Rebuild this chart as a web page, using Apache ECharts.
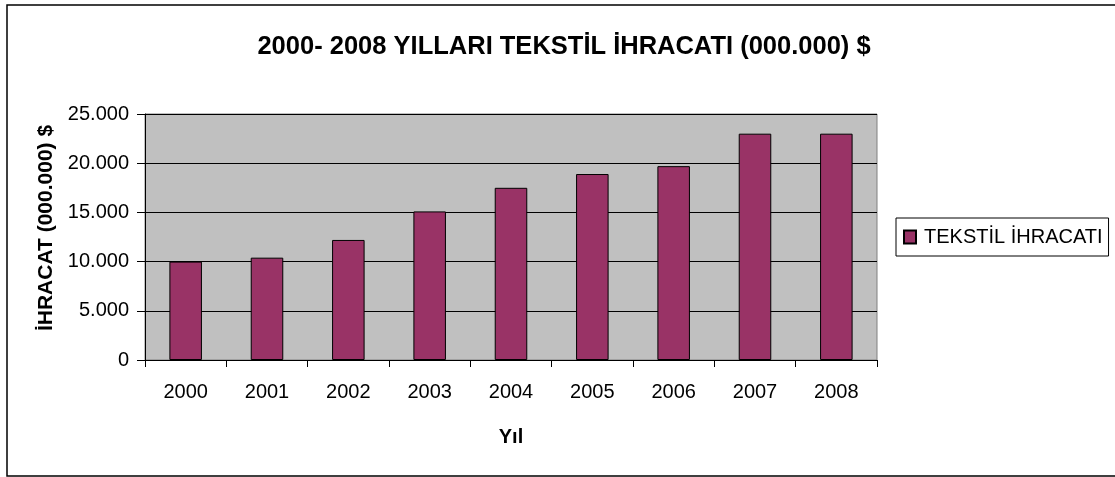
<!DOCTYPE html>
<html>
<head>
<meta charset="utf-8">
<script src="https://cdn.jsdelivr.net/npm/echarts@6/dist/echarts.min.js"></script>
<style>
  html, body { margin: 0; padding: 0; background: #fff; }
  #chart { width: 1115px; height: 477px; }
</style>
</head>
<body>
<div id="chart"></div>
<script>
// ihracat verisi (000.000 $)
var years = ['2000', '2001', '2002', '2003', '2004', '2005', '2006', '2007', '2008'];
var exports = [10000, 10400, 12200, 15100, 17500, 18900, 19700, 23000, 23000];
var seriesName = 'TEKSTİL İHRACATI';

var font = 'Liberation Sans, Arial, sans-serif';

var chart = echarts.init(document.getElementById('chart'));

var option = {
    backgroundColor: '#fff',
    animation: false,
    title: {
        text: '2000- 2008 YILLARI TEKSTİL İHRACATI (000.000) $',
        left: 559,
        textAlign: 'center',
        top: 29,
        textStyle: {
            fontFamily: font,
            fontSize: 25.5,
            fontWeight: 'bold',
            color: '#000'
        }
    },
    legend: {
        left: 896,
        top: 218,
        padding: [9, 6, 9, 7],
        borderColor: '#000',
        borderWidth: 1,
        borderRadius: 0,
        itemWidth: 12,
        itemHeight: 13,
        icon: 'rect',
        data: [seriesName],
        textStyle: {
            fontFamily: font,
            fontSize: 20,
            color: '#000',
            padding: [0, 0, 0, 3]
        }
    },
    grid: {
        left: 145,
        top: 114,
        right: 238,
        bottom: 117,
        show: true,
        backgroundColor: '#c0c0c0',
        borderColor: '#808080',
        borderWidth: 1
    },
    xAxis: {
        type: 'category',
        data: years,
        name: 'Yıl',
        nameLocation: 'middle',
        nameGap: 67,
        nameTextStyle: {
            fontFamily: font,
            fontSize: 20,
            fontWeight: 'bold',
            color: '#000'
        },
        axisLine: { lineStyle: { color: '#000', width: 1 } },
        axisTick: { show: true, length: 7, lineStyle: { color: '#000' } },
        axisLabel: {
            margin: 22,
            fontFamily: font,
            fontSize: 20,
            color: '#000'
        }
    },
    yAxis: {
        type: 'value',
        min: 0,
        max: 25000,
        interval: 5000,
        name: 'İHRACAT (000.000) $',
        nameLocation: 'middle',
        nameGap: 86,
        nameTextStyle: {
            fontFamily: font,
            fontSize: 21,
            fontWeight: 'bold',
            color: '#000',
            padding: [0, 0, 0, 18]
        },
        axisLine: { show: true, lineStyle: { color: '#000', width: 1 } },
        axisTick: { show: true, length: 8, lineStyle: { color: '#000' } },
        splitLine: { lineStyle: { color: '#000', width: 1 } },
        axisLabel: {
            margin: 16,
            fontFamily: font,
            fontSize: 20,
            color: '#000',
            formatter: function (v) {
                return v.toString().replace(/\B(?=(\d{3})+(?!\d))/g, '.');
            }
        }
    },
    series: [{
        name: seriesName,
        type: 'bar',
        data: exports,
        barCategoryGap: '60%',
        itemStyle: {
            color: '#993366',
            borderColor: '#000',
            borderWidth: 1
        }
    }],
    graphic: [{
        type: 'rect',
        shape: { x: 7, y: 5, width: 1120, height: 471 },
        style: { fill: null, stroke: '#000', lineWidth: 1.5 },
        silent: true
    }]
};

chart.setOption(option);
</script>
</body>
</html>
